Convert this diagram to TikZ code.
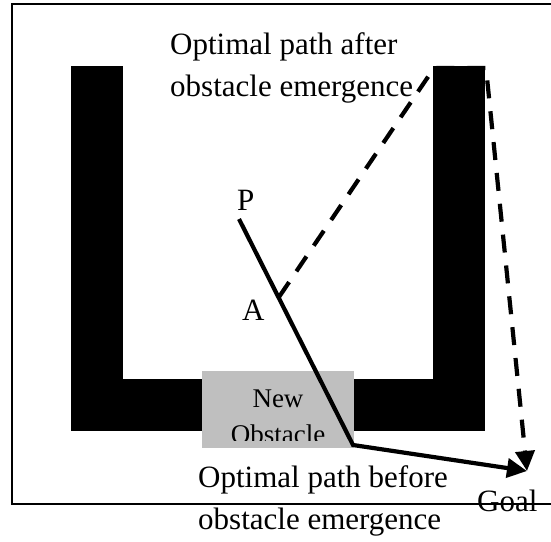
\documentclass[tikz,border=0pt]{standalone}
\usepackage{fontspec}
\setmainfont{Liberation Serif}
\usetikzlibrary{arrows.meta}
\begin{document}
\begin{tikzpicture}[x=1pt,y=-1pt,
  wall/.style={fill=black,draw=none},
  bigtxt/.style={inner sep=0pt,font=\fontsize{31}{41.5}\selectfont,align=left,anchor=base west},
  pathline/.style={line width=4.2pt,line join=miter},
  tip/.style={-{Triangle[length=20pt,width=19pt]}}
]
\useasboundingbox (0,0) rectangle (551,541);
\clip (0,0) rectangle (551,541);
\fill[white] (0,0) rectangle (551,541);
% frame
\draw[line width=1.6pt] (12,4) rectangle (580,504);
% dashed path (after obstacle emergence) drawn under the walls
\coordinate (A0) at (279,297);
\coordinate (c1) at (434,68);
\coordinate (c2) at (486,68);
\coordinate (goal) at (527,471);
\draw[pathline,dash pattern=on 18pt off 13pt,tip] (A0) -- (c1) -- (c2) -- (goal);
% walls (U shape)
\fill[wall] (71,66) rectangle (123,431);
\fill[wall] (433,66) rectangle (485,431);
\fill[wall] (71,379) rectangle (485,431);
% new obstacle
\fill[black!25] (202,371) rectangle (354,448);
\begin{scope}
\clip (202,371) rectangle (354,440);
\node[inner sep=0pt,font=\fontsize{27}{36}\selectfont,align=center,anchor=base] (obs) at (278,443) {New\\Obstacle};
\end{scope}
% solid path (before obstacle emergence)
\coordinate (P0) at (239,219);
\coordinate (bend) at (353,445);
\draw[pathline,tip] (P0) -- (bend) -- (goal);
% labels
\node[bigtxt] (after) at (170,96) {Optimal path after\\obstacle emergence};
\node[bigtxt] (before) at (198,529) {Optimal path before\\obstacle emergence};
\node[bigtxt] (P) at (237,210) {P};
\node[bigtxt] (A) at (242,320) {A};
\node[bigtxt] (goallbl) at (477,511) {Goal};
\end{tikzpicture}
\end{document}
